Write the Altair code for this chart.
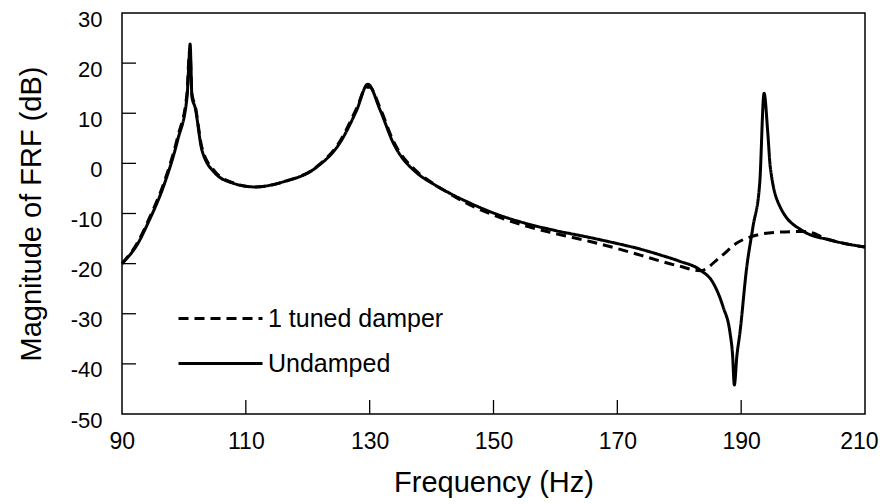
import altair as alt
import pandas as pd

# ---- data ----
freq_undamped = [90, 92.6, 94.2, 96.9, 99.0, 100.5, 100.8, 101.0, 101.3, 101.8, 102.9, 105.0,
                 107.8, 111.5, 116.0, 121.5, 125.2, 127.9, 129.7, 131.7, 133.8, 137.6, 140.0,
                 143.0, 146.7, 150.0, 155.0, 160.0, 165.6, 170.0, 173.7, 177.0, 180.0, 183.4,
                 185.5, 187.1, 188.2, 188.6, 188.9, 189.3, 189.8, 190.9, 191.9, 193.0, 193.7,
                 194.3, 194.7, 196.3, 200.0, 204.4, 210.0]
mag_undamped = [-20.0, -15.9, -11.9, -3.9, 4.7, 13.2, 20.0, 23.8, 13.2, 11.2, 2.7, -1.9,
                -3.9, -4.7, -3.7, -0.7, 4.1, 10.6, 15.8, 10.6, 4.1, -1.9, -3.9,
                -6.0, -8.2, -9.9, -11.9, -13.4, -14.8, -16.0, -17.1, -18.3, -19.5, -21.3,
                -23.9, -28.7, -33.8, -38.0, -44.2, -38.5, -33.8, -20.7, -12.7, -3.9, 14.0,
                6.1, -0.7, -8.7, -13.5, -15.3, -16.7]

freq_damper = [90, 92.6, 94.2, 96.9, 99.0, 100.5, 100.8, 100.95, 101.3, 101.8, 102.9, 105.0,
               107.8, 111.5, 116.0, 121.5, 125.2, 127.9, 129.5, 130.0, 131.7, 133.8, 137.6,
               140.0, 143.0, 146.7, 150.0, 155.0, 160.0, 165.6, 170.0, 173.7, 177.0, 180.0,
               183.4, 186.6, 189.3, 192.6, 196.3, 199.5, 200.3, 204.4, 210.0]
mag_damper = [-20.0, -15.6, -11.5, -3.4, 5.3, 14.0, 21.0, 22.8, 13.8, 11.6, 3.2, -1.6,
              -3.8, -4.7, -3.7, -0.6, 4.4, 11.0, 15.2, 15.2, 11.0, 4.5, -1.6,
              -3.8, -6.1, -8.6, -10.3, -12.4, -14.0, -15.6, -17.0, -18.3, -19.5, -20.5,
              -21.4, -18.7, -15.9, -14.3, -13.7, -13.6, -13.6, -15.3, -16.7]

series_names = ["1 tuned damper", "Undamped"]
x_label_values = [90, 110, 130, 150, 170, 190, 210]
y_label_values = [30, 20, 10, 0, -10, -20, -30, -40, -50]
x_tick_values = [110, 130, 150, 170, 190]
y_tick_values = [20, 10, 0, -10, -20, -30, -40]

# ---- tables ----
df = pd.concat([
    pd.DataFrame({"freq": freq_damper, "mag": mag_damper, "series": series_names[0]}),
    pd.DataFrame({"freq": freq_undamped, "mag": mag_undamped, "series": series_names[1]}),
])
xt_df = pd.DataFrame({"t": x_tick_values})
yt_df = pd.DataFrame({"t": y_tick_values})

W, H = 743, 401
FONT = "Liberation Sans"
xs = alt.Scale(domain=[90, 210], nice=False, zero=False)
ys = alt.Scale(domain=[-50, 30], nice=False, zero=False)

x_axis = alt.Axis(values=x_label_values, title="Frequency (Hz)", grid=False,
                  domain=False, ticks=False, labelPadding=16, titlePadding=15,
                  labelFontSize=23, titleFontSize=29, labelFlush=True, labelFlushOffset=13)
y_axis = alt.Axis(values=y_label_values, title="Magnitude of FRF (dB)", grid=False,
                  domain=False, ticks=False, labelPadding=20, titlePadding=24,
                  labelFontSize=22, titleFontSize=29, labelFlush=False, labelOffset=6,
                  labelExpr="'' + datum.value")

lines = alt.Chart(df).mark_line(color="black", strokeWidth=3, interpolate="monotone").encode(
    x=alt.X("freq:Q", scale=xs, axis=x_axis),
    y=alt.Y("mag:Q", scale=ys, axis=y_axis),
    strokeDash=alt.StrokeDash(
        "series:N",
        scale=alt.Scale(domain=series_names, range=[[10, 6], [1, 0]]),
        legend=alt.Legend(title=None, orient="none", legendX=55, legendY=283,
                          symbolType="stroke", symbolSize=7056, symbolStrokeWidth=3,
                          symbolStrokeColor="black", clipHeight=45, rowPadding=0,
                          labelFontSize=25, labelOffset=4, labelColor="black",
                          labelFont=FONT, labelLimit=0, padding=0),
    ),
    detail="series:N",
)

xticks = alt.Chart(xt_df).mark_rule(color="black", strokeWidth=1.3).encode(
    x=alt.X("t:Q", scale=xs, axis=x_axis),
    y=alt.value(H),
    y2=alt.value(H - 14),
)
yticks = alt.Chart(yt_df).mark_rule(color="black", strokeWidth=1.3).encode(
    y=alt.Y("t:Q", scale=ys, axis=y_axis),
    x=alt.value(0),
    x2=alt.value(14),
)

chart = alt.layer(lines, xticks, yticks).properties(
    width=W, height=H,
    autosize=alt.AutoSizeParams(type="none"),
    padding={"left": 114, "top": 5, "right": 14, "bottom": 88},
    background="white",
).configure_view(
    stroke="black", strokeWidth=1.5
).configure_axis(
    labelFont=FONT, titleFont=FONT, labelColor="black", titleColor="black",
    titleFontWeight="normal"
).configure_legend(
    labelFont=FONT
)

chart.save("out.html", embed_options={"renderer": "svg", "actions": False})
